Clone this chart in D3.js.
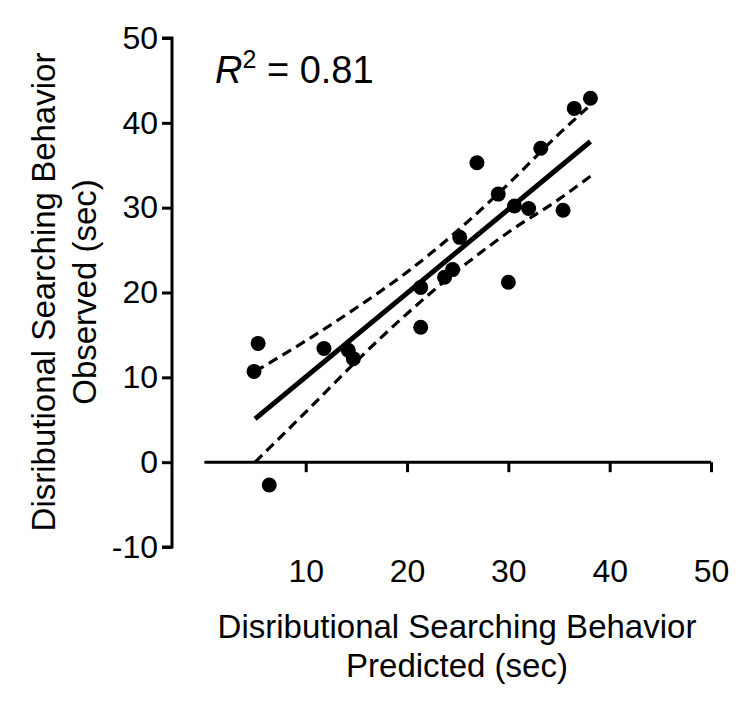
<!DOCTYPE html>
<html>
<head>
<meta charset="utf-8">
<script src="https://cdn.jsdelivr.net/npm/d3@7"></script>
<style>
  html, body { margin: 0; padding: 0; background: #fff; }
  svg { display: block; }
  text { font-family: "Liberation Sans", Arial, Helvetica, sans-serif; fill: #000; }
</style>
</head>
<body>
<svg id="chart" width="750" height="711"></svg>
<script>
// ---- Data ----
const predicted = [4.9, 5.3, 6.4, 11.8, 14.2, 14.7, 21.35, 21.35, 23.7, 24.5, 25.2, 26.9, 29.0, 30.0, 30.6, 32.0, 33.2, 35.4, 36.5, 38.1];
const observed  = [10.7, 14.0, -2.7, 13.4, 13.2, 12.2, 15.9, 20.6, 21.8, 22.7, 26.5, 35.3, 31.6, 21.2, 30.2, 29.9, 37.0, 29.7, 41.7, 42.9];

// regression line end points
const fitX = [5.0, 38.1];
const fitY = [5.1, 37.8];

// 95% confidence band (dashed), read at these x positions
const bandX     = [5.0, 10, 15, 20, 25, 30, 35, 38.1];
const bandUpper = [10.7, 14.3, 18.2, 22.4, 27.3, 32.8, 38.7, 42.1];
const bandLower = [0.0, 5.9, 11.9, 17.5, 22.6, 27.1, 31.0, 33.7];

const xTicks = [10, 20, 30, 40, 50];
const yTicks = [-10, 0, 10, 20, 30, 40, 50];

const r2Label = "0.81";
const xTitle = ["Disributional Searching Behavior", "Predicted (sec)"];
const yTitle = ["Disributional Searching Behavior", "Observed (sec)"];

// ---- Chart ----
const svg = d3.select("#chart");

const x = d3.scaleLinear().domain([0, 50]).range([204.4, 711]);
const y = d3.scaleLinear().domain([-10, 50]).range([547, 38]);

// Y axis
const yAxis = svg.append("g")
  .attr("transform", `translate(${172},0)`)
  .call(d3.axisLeft(y).tickValues(yTicks).tickSize(10).tickPadding(4).tickFormat(d3.format("d")));
yAxis.select(".domain").attr("stroke", "#000").attr("stroke-width", 3).attr("d", `M-10,${y(-10)}H0V${y(50)}H-10`);
yAxis.selectAll(".tick line").attr("stroke", "#000").attr("stroke-width", 3);
yAxis.selectAll(".tick text").style("font-size", "32px").attr("fill", "#000")
  .text(d => d < 0 ? "-" + Math.abs(d) : d);

// X axis (drawn at y = 0, labels placed below the plot)
const xAxis = svg.append("g")
  .attr("transform", `translate(0,${y(0)})`)
  .call(d3.axisBottom(x).tickValues(xTicks).tickSize(10).tickPadding(87).tickFormat(d3.format("d")));
xAxis.select(".domain").attr("stroke", "#000").attr("stroke-width", 3).attr("d", `M${x(0)},0H${x(50)}`);
xAxis.selectAll(".tick line").attr("stroke", "#000").attr("stroke-width", 3);
xAxis.selectAll(".tick text").style("font-size", "32px").attr("fill", "#000");

// Confidence bands
const bandLine = d3.line().curve(d3.curveMonotoneX);
svg.append("path")
  .attr("d", bandLine(bandX.map((v, i) => [x(v), y(bandUpper[i])])))
  .attr("fill", "none").attr("stroke", "#000").attr("stroke-width", 3.2)
  .attr("stroke-dasharray", "10,6");
svg.append("path")
  .attr("d", bandLine(bandX.map((v, i) => [x(v), y(bandLower[i])])))
  .attr("fill", "none").attr("stroke", "#000").attr("stroke-width", 3.2)
  .attr("stroke-dasharray", "10,6");

// Regression line
svg.append("path")
  .attr("d", d3.line()(fitX.map((v, i) => [x(v), y(fitY[i])])))
  .attr("fill", "none").attr("stroke", "#000").attr("stroke-width", 5);

// Points
svg.append("g").selectAll("circle")
  .data(predicted.map((v, i) => [v, observed[i]]))
  .join("circle")
  .attr("cx", d => x(d[0]))
  .attr("cy", d => y(d[1]))
  .attr("r", 7.5)
  .attr("fill", "#000");

// R^2 annotation
const r2 = svg.append("text").attr("x", 215).attr("y", 83).style("font-size", "38px");
r2.append("tspan").style("font-style", "italic").text("R");
r2.append("tspan").attr("dy", -15).style("font-size", "25px").text("2");
r2.append("tspan").attr("dy", 15).text(" = " + r2Label);

// X title
svg.append("text").attr("x", 457).attr("y", 638).attr("text-anchor", "middle")
  .style("font-size", "33px").text(xTitle[0]);
svg.append("text").attr("x", 457).attr("y", 677).attr("text-anchor", "middle")
  .style("font-size", "33px").text(xTitle[1]);

// Y title
svg.append("text").attr("transform", "translate(55,292) rotate(-90)").attr("text-anchor", "middle")
  .style("font-size", "33px").text(yTitle[0]);
svg.append("text").attr("transform", "translate(96,292) rotate(-90)").attr("text-anchor", "middle")
  .style("font-size", "33px").text(yTitle[1]);
</script>
</body>
</html>
